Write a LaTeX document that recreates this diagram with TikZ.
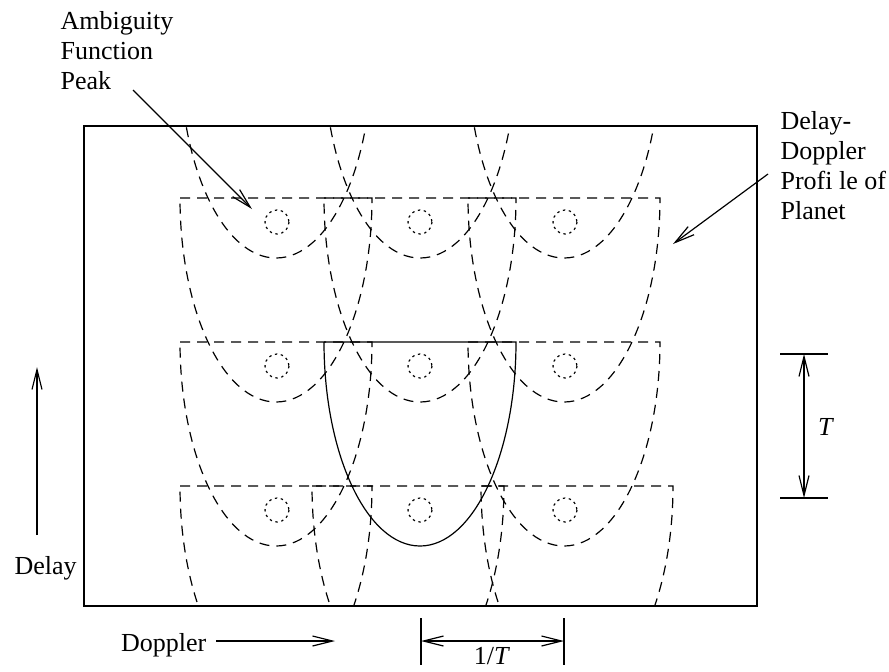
\documentclass[tikz,border=0pt]{standalone}
\usepackage{fontspec}
\setmainfont{Liberation Serif}
\usetikzlibrary{arrows.meta,positioning}

\newcommand{\Profile}[3][]% #1=options (optional), #2,#3 = middle of the flat top edge
{\draw[#1] (#2-96,#3) -- (#2+96,#3)
   arc[start angle=0, end angle=180, x radius=96, y radius=204];
}

\begin{document}
\begin{tikzpicture}[x=0.5pt, y=-0.5pt, line width=0.6pt,
  ghost/.style={dash pattern=on 5pt off 3.5pt},
  peakring/.style={dash pattern=on 1.2pt off 1.8pt},
  pointer/.style={-{Straight Barb[length=10pt,width=5pt]}},
  both/.style={{Straight Barb[length=10pt,width=5pt]}-{Straight Barb[length=10pt,width=5pt]}},
  txt/.style={align=left, inner sep=0pt, font=\fontsize{13}{15}\selectfont}]

    \useasboundingbox (0,0) rectangle (889,671);

    %\draw (0,0) grid[step=50] (889,671);

    \coordinate (F1) at (84,126);
    \coordinate (F2) at (757,606);
    \draw[line width=0.75pt] (F1) rectangle (F2);

    % aliases of the planet, cut to the frame
    \begin{scope}
    \clip (F1) rectangle (F2);
    \foreach \cx in {276,420,564}{
        \Profile[ghost]{\cx}{54}
        \Profile[ghost]{\cx}{198}
    }
    \Profile[ghost]{276}{342}
    \Profile[ghost]{564}{342}
    \foreach \cx in {276,408,577}{
        \Profile[ghost]{\cx}{486}
    }
    \end{scope}

    % the planet itself
    \Profile{420}{342}

    \foreach \px in {277,420,565}
      \foreach \py in {222,366,510}
        \draw[peakring] (\px,\py) circle[radius=12];

    \node[txt, anchor=north west] (ambig) at (60,11) {Ambiguity\\Function\\Peak};
    \coordinate (ambig-from) at (133,90);
    \coordinate (ambig-to) at (252,209);
    \draw[pointer] (ambig-from) -- (ambig-to);

    \node[txt, anchor=north west] (planet) at (780,111) {Delay-\\Doppler\\Profi le of\\Planet};
    \coordinate (planet-from) at (768,174);
    \coordinate (planet-to) at (673,244);
    \draw[pointer] (planet-from) -- (planet-to);

    \node[txt, anchor=north west] (delay) at (14,556) {Delay};
    \coordinate (delay-from) at (37,535);
    \coordinate (delay-to) at (37,367);
    \draw[pointer] (delay-from) -- (delay-to);

    \node[txt, anchor=base east] (doppler) at (207,651) {Doppler};
    \coordinate (doppler-from) at (216,641);
    \coordinate (doppler-to) at (335,641);
    \draw[pointer] (doppler-from) -- (doppler-to);

    % delay spacing T
    \coordinate (T1) at (804,354);
    \coordinate (T2) at (804,498);
    \draw (780,354) -- (828,354);
    \draw (780,498) -- (828,498);
    \draw[both] (T1) -- (T2);
    \node[txt] (tlab) at (826,427) {\textit{T}};

    % doppler spacing 1/T
    \coordinate (D1) at (421,641);
    \coordinate (D2) at (564,641);
    \draw (421,618) -- (421,665);
    \draw (564,618) -- (564,665);
    \draw[both] (D1) -- (D2);
    \node[txt, anchor=base] (dlab) at (492,664) {1/\textit{T}};

\end{tikzpicture}
\end{document}
